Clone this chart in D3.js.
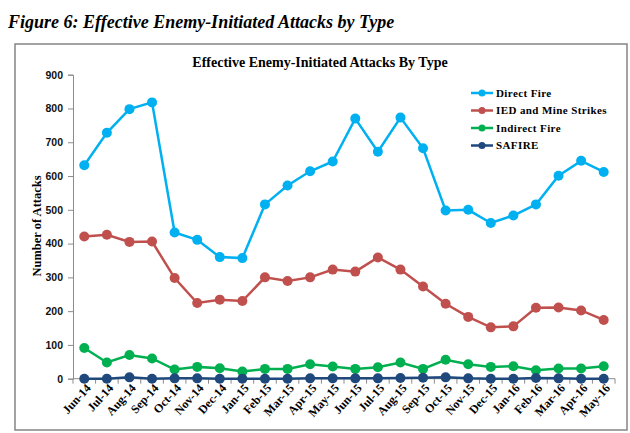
<!DOCTYPE html>
<html lang="en">
<head>
<meta charset="UTF-8">
<title>Effective Enemy-Initiated Attacks by Type</title>
<script src="https://d3js.org/d3.v7.min.js"></script>
<style>
  body { margin: 0; background: #fff; }
  svg text { font-family: "Liberation Serif", "Times New Roman", serif; }
</style>
</head>
<body>
<div id="chart"></div>
<script>
const months = ["Jun-14","Jul-14","Aug-14","Sep-14","Oct-14","Nov-14","Dec-14","Jan-15",
  "Feb-15","Mar-15","Apr-15","May-15","Jun-15","Jul-15","Aug-15","Sep-15",
  "Oct-15","Nov-15","Dec-15","Jan-16","Feb-16","Mar-16","Apr-16","May-16"];
const directFire = [632,728,798,818,433,411,360,357,516,572,614,643,770,672,773,682,498,500,461,483,516,601,645,612];
const iedMine = [421,426,405,406,298,224,234,230,300,289,300,323,317,359,323,273,222,183,152,155,210,211,202,174];
const indirectFire = [91,48,70,60,27,35,31,21,29,29,43,36,29,34,48,29,56,43,35,37,25,30,30,37];
const safire = [0,0,4,0,1,1,0,0,0,0,1,1,1,1,2,3,4,1,0,0,2,1,0,0];
const yTicks = [0,100,200,300,400,500,600,700,800,900];

const series = [
  {name: "Direct Fire", values: directFire, color: "#00b0f0"},
  {name: "IED and Mine Strikes", values: iedMine, color: "#c0504d"},
  {name: "Indirect Fire", values: indirectFire, color: "#00b050"},
  {name: "SAFIRE", values: safire, color: "#1f497d"}
];

const W = 630, H = 433;
const svg = d3.select("#chart").append("svg").attr("width", W).attr("height", H);

// figure caption
svg.append("text")
   .attr("x", 8).attr("y", 28)
   .style("font-size", "18px").style("font-weight", "bold").style("font-style", "italic")
   .text("Figure 6: Effective Enemy-Initiated Attacks by Type");

// chart frame
svg.append("rect")
   .attr("x", 15).attr("y", 44).attr("width", 612).attr("height", 386)
   .attr("fill", "#fff").attr("stroke", "#858585").attr("stroke-width", 1.5);

svg.append("text")
   .attr("x", 320).attr("y", 67).attr("text-anchor", "middle")
   .style("font-size", "14px").style("font-weight", "bold")
   .text("Effective Enemy-Initiated Attacks By Type");

const x = d3.scaleBand().domain(months).range([73, 615]);
const y = d3.scaleLinear().domain([0, 900]).range([378.7, 74.7]);
const cx = d => x(d) + x.bandwidth() / 2;

// y axis
const yAxis = svg.append("g")
   .attr("transform", "translate(73,0)")
   .call(d3.axisLeft(y).tickValues(yTicks).tickSize(5).tickPadding(5));
yAxis.select(".domain").attr("stroke", "#8c8c8c");
yAxis.selectAll(".tick line").attr("stroke", "#8c8c8c");
yAxis.selectAll("text")
   .style("font-family", "'Liberation Sans', Arial, sans-serif")
   .style("font-size", "10.5px").style("font-weight", "bold").attr("fill", "#111");

svg.append("text")
   .attr("transform", "translate(37,226) rotate(-90)")
   .attr("text-anchor", "middle").attr("dy", "0.35em")
   .style("font-size", "12.5px").style("font-weight", "bold")
   .text("Number of Attacks");

// x axis: ticks between categories
const xg = svg.append("g").attr("transform", `translate(0,${y(0)})`);
xg.append("line").attr("x1", 73).attr("x2", 615).attr("stroke", "#8c8c8c");
xg.selectAll("line.t").data(months.concat(["end"])).enter().append("line")
  .attr("class", "t")
  .attr("x1", (d, i) => 73 + i * x.step()).attr("x2", (d, i) => 73 + i * x.step())
  .attr("y1", 0).attr("y2", 5).attr("stroke", "#8c8c8c");
xg.selectAll("text").data(months).enter().append("text")
  .attr("transform", d => `translate(${cx(d) + 4},7) rotate(-48)`)
  .attr("text-anchor", "end").attr("dy", "0.35em")
  .style("font-size", "12px").style("font-weight", "bold")
  .text(d => d);

// series lines + markers
const line = d3.line().x((d, i) => cx(months[i])).y(d => y(d));
series.forEach(s => {
  svg.append("path").datum(s.values)
     .attr("d", line).attr("fill", "none")
     .attr("stroke", s.color).attr("stroke-width", 2.5);
  svg.selectAll(null).data(s.values).enter().append("circle")
     .attr("cx", (d, i) => cx(months[i])).attr("cy", d => y(d))
     .attr("r", 5).attr("fill", s.color);
});

// legend
const lg = svg.append("g").attr("transform", "translate(471,93)");
series.forEach((s, i) => {
  const g = lg.append("g").attr("transform", `translate(0,${i * 17.5})`);
  g.append("line").attr("x1", 0).attr("x2", 22).attr("stroke", s.color).attr("stroke-width", 2.5);
  g.append("circle").attr("cx", 11).attr("r", 3.5).attr("fill", s.color);
  g.append("text").attr("x", 25).attr("dy", "0.35em")
   .style("font-size", "11px").style("font-weight", "bold").style("letter-spacing", "0.4px")
   .text(s.name);
});
</script>
</body>
</html>
